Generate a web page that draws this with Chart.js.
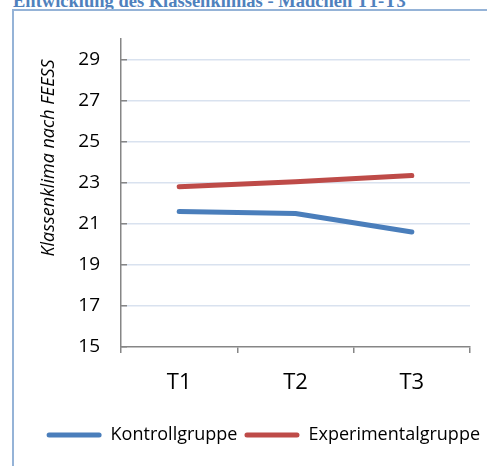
<!DOCTYPE html>
<html>
<head>
<meta charset="utf-8">
<script src="https://cdn.jsdelivr.net/npm/chart.js@4/dist/chart.umd.min.js"></script>
<style>
  html, body { margin: 0; padding: 0; background: #ffffff; overflow: hidden; }
  #wrap { position: relative; width: 487px; height: 466px; overflow: hidden; }
  #title { position: absolute; left: 13px; top: -8.5px; font-family: "Liberation Serif", serif; font-weight: bold;
           font-size: 18.5px; line-height: 18.5px; color: #4F81BD; white-space: nowrap; }
  #frame { position: absolute; left: 12px; top: 9px; width: 600px; height: 600px;
           border-top: 2px solid #95B3D7; border-left: 2px solid #95B3D7; }
  #c { position: absolute; left: 0; top: 0; z-index: 2; }
</style>
</head>
<body>
<div id="wrap">
  <div id="title">Entwicklung des Klassenklimas - Mädchen T1-T3</div>
  <div id="frame"></div>
  <canvas id="c" width="487" height="466"></canvas>
</div>
<script>
// ---- data ----
const categories = ['T1', 'T2', 'T3'];
const kontrollgruppe = [21.6, 21.5, 20.6];
const experimentalgruppe = [22.8, 23.05, 23.35];
const seriesNames = ['Kontrollgruppe', 'Experimentalgruppe'];
const yTicks = [15, 17, 19, 21, 23, 25, 27, 29];
const yMin = 15;
const yMax = 30;
const yAxisTitle = 'Klassenklima nach FEESS';

const BLUE = '#4A7EBB';
const RED = '#BE4B48';
const AXIS = '#868686';
const GRID = '#D9E2EF';

Chart.defaults.color = '#000000';
Chart.defaults.font.family = '"Open Sans", sans-serif';

const yTitlePlugin = {
  id: 'yTitlePlugin',
  afterDraw(chart) {
    const ctx = chart.ctx;
    ctx.save();
    ctx.translate(49, 158);
    ctx.rotate(-Math.PI / 2);
    ctx.font = 'italic 18px "Open Sans", sans-serif';
    ctx.fillStyle = '#000000';
    ctx.textAlign = 'center';
    ctx.textBaseline = 'middle';
    ctx.fillText(yAxisTitle, 0, 0);
    ctx.restore();
  }
};

new Chart(document.getElementById('c'), {
  type: 'line',
  data: {
    labels: categories,
    datasets: [
      { label: seriesNames[0], data: kontrollgruppe, borderColor: BLUE, backgroundColor: BLUE,
        borderWidth: 5, pointRadius: 0, tension: 0, borderCapStyle: 'round', borderJoinStyle: 'round' },
      { label: seriesNames[1], data: experimentalgruppe, borderColor: RED, backgroundColor: RED,
        borderWidth: 5, pointRadius: 0, tension: 0, borderCapStyle: 'round', borderJoinStyle: 'round' }
    ]
  },
  options: {
    responsive: false,
    animation: false,
    devicePixelRatio: 1,
    layout: { padding: { top: 39, left: 0, right: 0, bottom: 12 } },
    plugins: {
      tooltip: { enabled: false },
      legend: {
        position: 'bottom',
        align: 'end',
        labels: {
          boxWidth: 55,
          boxHeight: 5,
          padding: 7,
          font: { size: 18 },
          color: '#000000',
          generateLabels(chart) {
            return chart.data.datasets.map((ds, i) => ({
              text: ds.label,
              fillStyle: ds.borderColor,
              strokeStyle: ds.borderColor,
              lineWidth: 0,
              borderRadius: 2.5,
              hidden: false,
              datasetIndex: i,
              fontColor: '#000000'
            }));
          }
        }
      }
    },
    scales: {
      x: {
        offset: true,
        grid: { offset: true, drawOnChartArea: false, drawTicks: true, tickLength: 6, color: AXIS, lineWidth: 1.5 },
        border: { display: true, color: AXIS, width: 1.5 },
        ticks: { font: { size: 22 }, color: '#000000', padding: 17 },
        afterFit(scale) { scale.height = 72; }
      },
      y: {
        min: yMin,
        max: yMax,
        afterBuildTicks(scale) { scale.ticks = yTicks.map(v => ({ value: v })); },
        grid: {
          color: (c) => (c.tick && c.tick.value === yMin) ? 'rgba(0,0,0,0)' : GRID,
          lineWidth: 1.5,
          drawTicks: true,
          tickLength: -6,
          tickColor: AXIS,
          tickWidth: 1.5
        },
        border: { display: true, color: AXIS, width: 1.5 },
        ticks: { font: { size: 19 }, color: '#000000', padding: 27 },
        afterFit(scale) { scale.width = 121; }
      },
      yRightSpacer: {
        position: 'right',
        display: true,
        grid: { display: false },
        border: { display: false },
        ticks: { display: false },
        afterFit(scale) { scale.width = 17; }
      }
    }
  },
  plugins: [yTitlePlugin]
});
</script>
</body>
</html>
